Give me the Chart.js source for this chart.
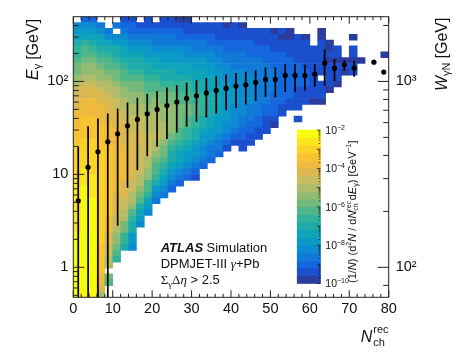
<!DOCTYPE html>
<html>
<head>
<meta charset="utf-8">
<style>
  html, body { margin: 0; background: #fff; }
  canvas { display: block; }
</style>
<script src="https://cdn.jsdelivr.net/npm/chart.js@4"></script>
</head>
<body>
<canvas id="chart" width="457" height="354"></canvas>
<script>
const _ = null;

const xMajorTicks = [0, 10, 20, 30, 40, 50, 60, 70, 80];
const xMinorTicks = [2, 4, 6, 8, 12, 14, 16, 18, 22, 24, 26, 28, 32, 34, 36, 38, 42, 44, 46, 48, 52, 54, 56, 58, 62, 64, 66, 68, 72, 74, 76, 78];
const yMajorTicks = [1, 10, 100];
const yMinorTicks = [0.5, 0.6, 0.7, 0.8, 0.9, 2, 3, 4, 5, 6, 7, 8, 9, 20, 30, 40, 50, 60, 70, 80, 90, 200, 300, 400];
const wMajorTicks = [100, 1000];
const wMinorTicks = [80, 200, 300, 400, 500, 600, 700, 800, 900, 2000];
const yTickLabels = { 1: "1", 10: "10", 100: "10\u00b2" };
const wTickLabels = { 100: "10\u00b2", 1000: "10\u00b3" };
const cbarLabelExponents = [-2, -4, -6, -8, -10];

// mean E_gamma per N_ch bin, with the spread as vertical bars
const pointX = [1.25, 3.75, 6.25, 8.75, 11.25, 13.75, 16.25, 18.75, 21.25, 23.75, 26.25, 28.75, 31.25, 33.75, 36.25, 38.75, 41.25, 43.75, 46.25, 48.75, 51.25, 53.75, 56.25, 58.75, 61.25, 63.75, 66.25, 68.75, 71.25, 76.25, 78.75];
const pointY = [5.2, 11.9, 17.5, 22.4, 27.3, 33.3, 39, 44.8, 50, 55, 59.9, 65.6, 70, 75.3, 80, 84, 89, 92, 97.5, 105, 105, 116, 116, 116, 120, 157, 138, 151, 139, 161, 126];
const errLow = [0.47, 0.47, 0.47, 0.47, 2.8, 7.2, 11.1, 15.7, 19.8, 24, 28.3, 32.5, 36.8, 41, 45.3, 49, 51.8, 56.6, 61.4, 68.2, 67.3, 77, 77, 80, 87.5, 89.7, 101, 130, 112, _, _];
const errHigh = [20, 33, 40, 45.3, 51, 59.5, 66.7, 73.6, 79, 86, 91, 97.6, 103, 109, 114, 118, 123, 127, 133, 141, 142, 153, 153, 151, 153, 221, 174, 169, 167, _, _];

// heat map: one list per N_ch column, 2 units wide. heatFirstRow is the top row
// of the column, counted down from the top of the plot. Level n is a density of
// 10^(-10 + 0.4 n).
const heatFirstRow = [1, 0, 0, 1, 2, 1, 0, 0, 1, 0, 1, 0, 0, 0, 0, 1, 1, 1, 1, 1, 1, 1, 2, 2, 2, 2, 2, 2, 3, 3, 5, 2, 4, 5, 7, 3, 7, _, _, 6];
const heatLevels = [
  [4,5,6,7,8,8,9,10,10,11,12,13,13,14,14,15,15,15,16,16,16,17,17,17,17,17,17,18,18,18,18,18,18,18,18,18,19,19,19,19,19,19,19,19,19,19,19],
  [2,4,5,6,8,9,9,10,11,11,12,13,14,14,15,15,15,16,16,16,16,17,17,17,17,17,18,18,18,19,19,19,19,19,19,19,19,19,19,19,19,19,19,19,19,19,19,19],
  [2,4,5,6,7,8,9,10,11,11,12,13,14,14,15,15,15,16,16,16,16,17,17,17,17,17,17,18,18,18,18,19,19,19,19,19,19,19,19,19,19,19,19,19,19,19,19,19],
  [3,4,6,6,7,8,9,10,11,11,12,13,14,14,15,15,15,16,16,16,16,16,17,17,17,17,17,17,17,17,17,17,17,17,17,17,17,17,16,16,16,16,16,15,15,14,12],
  [3,4,6,7,8,9,9,10,11,12,12,13,14,14,14,14,15,15,15,15,16,16,16,16,16,16,16,16,16,16,16,16,15,15,15,14,14,13,13,12,12,_,10,9],
  [3,_,4,5,7,7,8,9,10,10,11,12,12,13,13,14,14,14,15,15,15,15,15,15,15,15,15,15,15,14,14,14,14,13,13,12,11,11,10,9,8],
  [1,2,3,4,5,6,6,7,8,9,9,10,11,11,12,12,13,13,14,14,14,14,15,15,15,15,15,15,14,14,14,13,13,12,12,10,10,8,8,7],
  [1,2,2,3,4,5,6,7,7,8,9,10,10,11,11,12,12,13,13,13,14,14,14,14,14,14,14,14,13,13,12,12,11,9,8,7,7,5,5,4],
  [1,2,3,4,5,6,7,7,8,9,10,10,11,11,12,12,13,13,13,14,14,13,13,13,13,13,12,12,11,10,9,7,6,5,4],
  [1,1,2,3,4,5,5,6,7,7,8,9,9,10,10,11,11,12,12,12,13,13,13,13,12,12,11,11,9,9,8,6,5,4],
  [1,2,3,3,4,5,6,6,7,8,9,9,10,11,11,12,12,12,12,13,12,12,11,10,9,9,8,7,5,4,3],
  [1,1,2,3,3,4,5,5,6,7,7,8,9,10,10,11,11,11,12,12,12,11,10,10,9,8,7,6,5,4,3],
  [1,1,2,3,3,4,5,5,6,7,7,8,9,10,10,11,11,11,11,11,10,9,8,7,7,6,5,4,3,2],
  [0,1,2,2,3,4,5,5,6,6,7,8,8,9,9,10,10,10,10,9,9,8,7,6,6,5,4,3,2],
  [0,1,1,2,3,4,4,5,6,6,7,8,8,9,9,10,10,9,9,8,8,7,6,5,5,4,3,2],
  [1,1,2,3,3,4,5,5,6,6,7,7,8,8,9,9,8,8,7,7,6,5,5,4,3,2,1],
  [1,1,2,3,3,4,5,5,6,6,7,7,8,8,8,8,7,7,6,5,5,4,4,3,2],
  [1,1,2,2,3,4,4,5,5,6,6,6,7,7,7,7,6,6,5,5,4,3,3,2],
  [1,1,1,2,3,3,4,4,5,5,5,6,6,6,6,6,5,5,5,4,3,3,2],
  [0,1,1,2,2,3,3,4,4,4,5,5,5,5,5,5,5,4,4,3,2,1],
  [1,1,1,2,2,3,3,3,4,4,4,5,5,5,4,4,4,4,3,2,1],
  [0,1,1,2,2,3,3,3,4,4,4,4,4,4,4,4,3,3,2,2,1,1],
  [1,1,2,2,2,3,3,3,4,4,4,4,4,3,3,3,2,2,1,1],
  [1,1,1,2,2,3,3,3,3,3,3,3,3,3,3,2,2,1,1],
  [1,1,1,2,2,2,3,3,3,3,3,3,3,2,2,1,1,1],
  [0,1,1,1,2,2,2,3,3,3,3,2,2,2,2,1,0],
  [1,0,1,1,2,2,2,2,2,2,2,2,2,1,1],
  [0,0,1,1,1,2,2,2,2,2,2,2,1,1],
  [1,1,1,1,1,2,2,2,2,1,1,1,1,_,1],
  [0,1,1,1,1,1,2,2,2,1,1,1],
  [1,1,1,1,1,1,1,1,1,0],
  [0,0,1,1,1,1,1,1,_,1,1,1,0],
  [0,0,1,0,1,1,1,1,0],
  [1,1,0,1,1,1,0],
  [0,1,0],
  [0,_,1,1,0,1,1],
  [0],
  [],
  [],
  [0]
];

const levelColors = ["#2b3c9f", "#1a4fce", "#1467dc", "#117ad8", "#0d8bd0", "#0b9ac7", "#0ea5ba", "#1eacab", "#30b29b", "#4fb68a", "#72b97c", "#93bb72", "#b0bc6a", "#c9bb5f", "#dcb950", "#efbb3f", "#fac332", "#fdd228", "#fbe51c", "#f9fb0e"];

const xMin = 0, xMax = 80;
const yMin = 0.476, yMax = 497;
const wMin = 69, wMax = 2229;
const rowCount = 48;

const SANS = "'Liberation Sans', Arial, sans-serif";
const SERIF = "'Liberation Serif', serif";

Chart.defaults.font.family = SANS;
Chart.defaults.color = "#111";
Chart.defaults.animation = false;

const rowStep = Math.log10(yMax / yMin) / rowCount;
const rowEdge = r => Math.pow(10, Math.log10(yMax) - r * rowStep);

const heatData = [];
const heatColors = [];
heatLevels.forEach((col, c) => {
  col.forEach((level, i) => {
    if (level === null) return;
    const r = heatFirstRow[c] + i;
    heatData.push({ x: 2 * c + 1, y: [rowEdge(r + 1), rowEdge(r)] });
    heatColors.push(levelColors[level]);
  });
});

// one band of the colour bar per level
const cbarData = levelColors.map((c, i) => ({
  x: 59.75,
  y: [Math.pow(10, -10 + 0.4 * i), Math.pow(10, -10 + 0.4 * (i + 1))]
}));

const errData = [];
pointX.forEach((x, i) => {
  if (errLow[i] !== null) errData.push({ x, y: [errLow[i], errHigh[i]] });
});

function font(size, style, family) {
  return `${style || ""} ${size}px ${family || SANS}`;
}

// writes a row of text pieces, each with its own font and raise
function drawRuns(ctx, x, y, angle, runs) {
  ctx.save();
  ctx.translate(x, y);
  ctx.rotate(angle);
  ctx.textAlign = "left";
  ctx.textBaseline = "alphabetic";
  ctx.fillStyle = "#111";
  let pos = 0;
  runs.forEach(run => {
    ctx.font = run.font;
    ctx.fillText(run.text, pos, -(run.raise || 0));
    if (!run.hold) pos += ctx.measureText(run.text).width + (run.gap || 0);
  });
  ctx.restore();
}

const framePlugin = {
  id: "frame",
  afterDraw(chart) {
    const { ctx, chartArea: a, scales } = chart;
    ctx.save();
    ctx.strokeStyle = "#222";
    ctx.lineWidth = 1;

    const hLine = (y, x0, x1) => { ctx.beginPath(); ctx.moveTo(x0, y); ctx.lineTo(x1, y); ctx.stroke(); };
    const vLine = (x, y0, y1) => { ctx.beginPath(); ctx.moveTo(x, y0); ctx.lineTo(x, y1); ctx.stroke(); };

    xMajorTicks.forEach(v => {
      const px = scales.x.getPixelForValue(v);
      vLine(px, a.bottom, a.bottom - 7);
      vLine(px, a.top, a.top + 7);
    });
    xMinorTicks.forEach(v => {
      const px = scales.x.getPixelForValue(v);
      vLine(px, a.bottom, a.bottom - 3.5);
      vLine(px, a.top, a.top + 3.5);
    });
    yMajorTicks.forEach(v => hLine(scales.y.getPixelForValue(v), a.left, a.left + 11));
    yMinorTicks.forEach(v => hLine(scales.y.getPixelForValue(v), a.left, a.left + 5.5));
    wMajorTicks.forEach(v => hLine(scales.w.getPixelForValue(v), a.right, a.right - 11));
    wMinorTicks.forEach(v => hLine(scales.w.getPixelForValue(v), a.right, a.right - 5.5));
    ctx.strokeRect(a.left, a.top, a.right - a.left, a.bottom - a.top);

    // colour bar ticks and labels
    const barRight = 320.3;
    ctx.strokeStyle = "#111";
    ctx.lineWidth = 0.7;
    for (let d = -10; d < -2; d++) {
      for (let m = 1; m < 10; m++) {
        const py = scales.barY.getPixelForValue(m * Math.pow(10, d));
        hLine(py, barRight, barRight - (m === 1 ? 3.5 : 1.6));
      }
    }
    hLine(scales.barY.getPixelForValue(1e-2), barRight, barRight - 3.5);
    ctx.restore();

    cbarLabelExponents.forEach(exp => {
      const py = scales.barY.getPixelForValue(Math.pow(10, exp));
      drawRuns(ctx, 325.3, py + 3.8, 0, [
        { text: "10", font: font(10.5) },
        { text: "\u2212" + Math.abs(exp), font: font(7), raise: 4 }
      ]);
    });

    drawRuns(ctx, 355.5, 283, -Math.PI / 2, [
      { text: "(1/", font: font(11) },
      { text: "N", font: font(11, "italic") },
      { text: ") (d", font: font(11) },
      { text: "2", font: font(7), raise: 4.5 },
      { text: "N", font: font(11, "italic") },
      { text: " / d", font: font(11) },
      { text: "N", font: font(11, "italic") },
      { text: "rec", font: font(7), raise: 4.5, hold: true },
      { text: "ch", font: font(7), raise: -2.5, gap: 3 },
      { text: "d", font: font(11) },
      { text: "E", font: font(11, "italic") },
      { text: "\u03b3", font: font(7), raise: -2.5 },
      { text: ") [GeV", font: font(11) },
      { text: "\u22121", font: font(7), raise: 4.5 },
      { text: "]", font: font(11) }
    ]);

    // axis titles
    drawRuns(ctx, 38, 80, -Math.PI / 2, [
      { text: "E", font: font(16, "italic") },
      { text: "\u03b3", font: font(11), raise: -3, gap: 4 },
      { text: "[GeV]", font: font(16) }
    ]);
    drawRuns(ctx, 447, 91, -Math.PI / 2, [
      { text: "W", font: font(16, "italic") },
      { text: "\u03b3N", font: font(11), raise: -3, gap: 4 },
      { text: "[GeV]", font: font(16) }
    ]);
    drawRuns(ctx, 360.7, 341.7, 0, [
      { text: "N", font: font(16, "italic"), gap: 1 },
      { text: "rec", font: font(11), raise: 8.5, hold: true },
      { text: "ch", font: font(11), raise: -4 }
    ]);

    // labels inside the plot
    drawRuns(ctx, 160.7, 251.7, 0, [
      { text: "ATLAS", font: font(13, "italic bold"), gap: 3.5 },
      { text: "Simulation", font: font(13) }
    ]);
    drawRuns(ctx, 160.7, 268.3, 0, [
      { text: "DPMJET-III ", font: font(13) },
      { text: "\u03b3", font: font(13, "italic", SERIF) },
      { text: "+Pb", font: font(13) }
    ]);
    drawRuns(ctx, 160.7, 284.3, 0, [
      { text: "\u03a3", font: font(13, "", SERIF) },
      { text: "\u03b3", font: font(8.5, "", SERIF), raise: -3 },
      { text: "\u0394", font: font(13, "", SERIF) },
      { text: "\u03b7", font: font(13, "italic", SERIF) },
      { text: " > 2.5", font: font(13) }
    ]);
  }
};

new Chart(document.getElementById("chart"), {
  type: "bar",
  data: {
    datasets: [
      {
        type: "scatter",
        data: pointX.map((x, i) => ({ x, y: pointY[i] })),
        xAxisID: "x",
        yAxisID: "y",
        backgroundColor: "#000",
        borderWidth: 0,
        pointRadius: 2.6,
        order: 1
      },
      {
        data: errData,
        xAxisID: "x",
        yAxisID: "y",
        backgroundColor: "#000",
        barThickness: 1.7,
        grouped: false,
        inflateAmount: 0,
        order: 2
      },
      {
        data: heatData,
        xAxisID: "heatX",
        yAxisID: "y",
        backgroundColor: heatColors,
        barPercentage: 1,
        categoryPercentage: 1,
        grouped: false,
        order: 3
      },
      {
        data: cbarData,
        xAxisID: "barX",
        yAxisID: "barY",
        backgroundColor: levelColors,
        barThickness: 23.3,
        grouped: false,
        clip: false,
        order: 3
      }
    ]
  },
  options: {
    responsive: false,
    events: [],
    layout: { padding: { top: 16.7 } },
    plugins: { legend: { display: false }, tooltip: { enabled: false } },
    scales: {
      x: {
        type: "linear",
        min: xMin,
        max: xMax,
        offset: false,
        grid: { display: false, drawTicks: false },
        border: { display: false },
        afterFit: s => { s.height = 56.7; },
        afterBuildTicks: s => { s.ticks = xMajorTicks.map(value => ({ value })); },
        ticks: { font: { size: 14.5 }, padding: 3, maxRotation: 0, autoSkip: false, color: "#111" }
      },
      y: {
        type: "logarithmic",
        position: "left",
        min: yMin,
        max: yMax,
        grid: { display: false, drawTicks: false },
        border: { display: false },
        afterFit: s => { s.width = 73.3; },
        afterBuildTicks: s => { s.ticks = yMajorTicks.map(value => ({ value })); },
        ticks: { font: { size: 14.5 }, padding: 5, autoSkip: false, color: "#111", callback: v => yTickLabels[v] }
      },
      w: {
        type: "logarithmic",
        position: "right",
        min: wMin,
        max: wMax,
        grid: { display: false, drawTicks: false },
        border: { display: false },
        afterFit: s => { s.width = 68.3; },
        afterBuildTicks: s => { s.ticks = wMajorTicks.map(value => ({ value })); },
        ticks: { font: { size: 14.5 }, padding: 7, autoSkip: false, color: "#111", callback: v => wTickLabels[v] }
      },
      heatX: { type: "linear", display: false, min: xMin, max: xMax, offset: false, grid: { display: false } },
      barX: { type: "linear", display: false, min: xMin, max: xMax, offset: false, grid: { display: false } },
      barY: { type: "logarithmic", display: false, min: Math.pow(10, -10.72), max: Math.pow(10, 3.91), grid: { display: false } }
    }
  },
  plugins: [framePlugin]
});
</script>
</body>
</html>
